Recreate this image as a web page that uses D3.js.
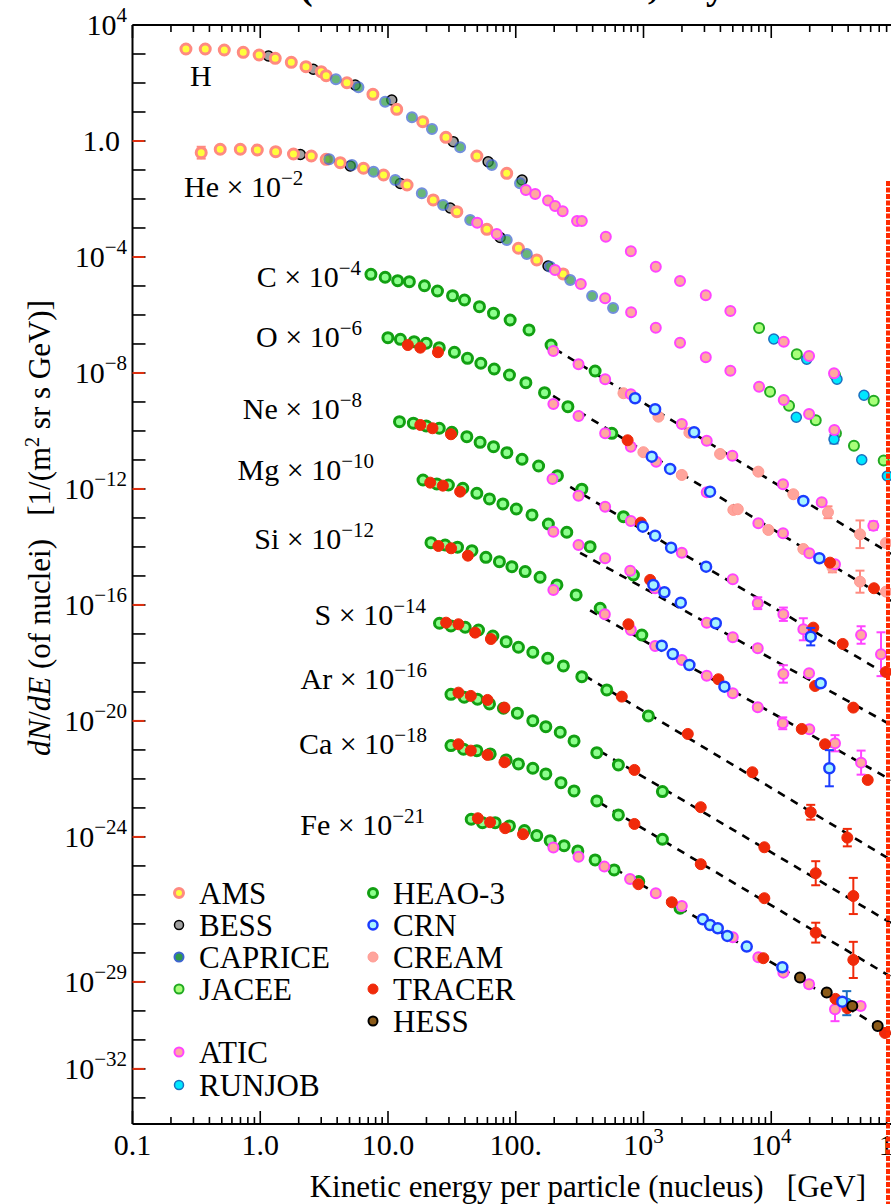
<!DOCTYPE html>
<html><head><meta charset="utf-8">
<script src="https://cdn.jsdelivr.net/npm/d3@7"></script>
<style>
body{margin:0;background:#fff}
svg{display:block}
text{font-family:"Liberation Serif","Times New Roman",serif;fill:#000}
</style>
</head><body>
<svg id="chart" width="891" height="1204"></svg>
<script>
// ---------------- DATA (energy per nucleus [GeV], plotted flux, optional error factor) ----------------
const AMS = [
 ["H",0.262,1486],["H",0.371,1486],["H",0.523,1374],["H",0.736,1145],["H",0.98,924],["H",1.31,711],["H",1.75,518],["H",2.28,365],["H",3.0,245],
 ["H",3.28,179],["H",4.77,102],["H",7.62,40.7],["H",11.7,12.4],["H",18.7,4.63],["H",28.4,1.34],["H",49.6,0.304],["H",85,0.0769],
 ["He",0.345,0.395,1.6],["He",0.486,0.518],["He",0.698,0.518],["He",0.948,0.49],["He",1.32,0.428],["He",1.82,0.356],["He",2.51,0.304],["He",3.28,0.234],
 ["He",4.23,0.179],["He",6.43,0.115],["He",9.23,0.0673],["He",14.1,0.0304],["He",22.6,0.00925],["He",34.6,0.00365],["He",59.4,9.0e-4],["He",105,2.0e-4],["He",146,7.9e-5],["He",235,2.6e-5]
];
const BESS = [
 ["H",1.16,853],["H",2.6,297],["H",5.53,85.3],["H",10.7,25.9],["H",32.4,0.946],["H",60.8,0.193],["H",112,0.0452],
 ["He",2.06,0.342],["He",5.06,0.137],["He",12.5,0.0342],["He",30.7,0.0049],["He",75.5,4.7e-4],["He",179,4.9e-5]
];
const CAPRICE = [
 ["H",3.91,134],["H",5.87,71],["H",9.5,22.6],["H",15.4,6.56],["H",22.1,2.59],["H",36.7,0.607],["H",65,0.149],["H",108,0.0348],
 ["He",3.47,0.234],["He",5.22,0.149],["He",7.71,0.0874],["He",11.4,0.0452],["He",18.4,0.0157],["He",27,0.0062],["He",44,0.00189],["He",85,3.86e-4],
 ["He",122,1.27e-4],["He",186,4.6e-5],["He",267,1.6e-5],["He",396,4.5e-6],["He",578,1.74e-6]
];
const JACEE = [
 ["H",8030,3.56e-7],["H",15850,4.4e-8],["H",31550,8.5e-9],["H",63400,1.1e-9],
 ["He",9790,2.27e-9],["He",13780,7.45e-10],["He",22300,2.34e-10],["He",32100,8.3e-11],["He",44400,3.1e-11],["He",75900,9.5e-12]
];
const RUNJOB = [
 ["H",10470,1.49e-7],["H",18960,2.96e-8],["H",32700,6.07e-9],["H",53200,1.7e-9],
 ["He",15710,2.96e-10],["He",31000,5.2e-11,1.4],["He",51100,1.02e-11],["He",81100,2.8e-12],
 ["Fe",39000,1.85e-30,2.6]
];
const ATIC = [
 ["H",120,0.0204],["H",142,0.0149],["H",179,0.00887],["H",203,0.00574],["H",233,0.00377],["H",302,0.00174],["H",329,0.00174],["H",507,5.0e-4],["H",796,1.57e-4],
 ["H",1248,4.6e-5],["H",1932,1.49e-5],["H",3073,4.8e-6],["H",4786,1.37e-6],["H",12530,1.2e-7],["H",19770,3.86e-8],["H",31000,9.8e-9],
 ["He",49.9,1.52e-3],["He",71,6.2e-4],["He",203,3.56e-5],["He",323,1.17e-5],["He",501,3.77e-6],["He",800,1.24e-6],["He",1248,3.65e-7],["He",1932,1.11e-7],
 ["He",3073,3.48e-8],["He",4786,1.2e-8],["He",8030,3.37e-9],["He",12530,1.17e-9],["He",19770,3.86e-10],["He",31190,1.08e-10],
 ["C",197,5.74e-8],["C",310,2.0e-8],["C",501,6.07e-9],["C",796,1.85e-9],["C",1995,1.74e-10],["C",3126,4.63e-11],["C",4960,1.41e-11],["C",12370,1.45e-12],["C",24830,3.48e-13],["C",63000,5.42e-14,1.4],
 ["O",197,8.5e-10],["O",310,3.29e-10],["O",501,8.3e-11],["O",796,2.88e-11],["O",1256,8.7e-12],["O",3126,7.7e-13],["O",7925,6.57e-14],["O",12370,2.96e-14],["O",19860,6.07e-15],["O",31550,2.53e-15],
 ["Ne",194,2.21e-12],["Ne",310,5.87e-13],["Ne",501,2.45e-13],["Ne",796,7.9e-14],["Ne",1995,6.35e-15],["Ne",5000,7.7e-16],["Ne",7840,1.15e-16,1.6],["Ne",12440,4.78e-17,1.7],["Ne",17830,1.45e-17,2.4],["Ne",50500,9.2e-18,2.0],["Ne",72300,2.0e-18,5.7],
 ["Mg",197,3.37e-14],["Mg",310,1.17e-14],["Mg",501,4.07e-15],["Mg",787,1.52e-15],["Mg",1233,3.77e-16],["Mg",3126,2.45e-17],["Mg",5000,7.7e-18],["Mg",7840,3.21e-18],["Mg",12440,4.18e-19,2.0],["Mg",19770,4.4e-19],
 ["Si",197,3.29e-16],["Si",498,4.78e-17],["Si",796,1.37e-17],["Si",1233,3.86e-18],["Si",1995,1.27e-18],["Si",3126,3.65e-19],["Si",5000,9.0e-20],["Si",7840,2.96e-20],["Si",12300,8.3e-21,1.6],["Si",19860,5.17e-21],["Si",31550,1.7e-21,1.9],["Si",50500,3.65e-22,2.6],
 ["Fe",197,4.28e-25],["Fe",310,2.09e-25],["Fe",494,9.46e-26],["Fe",785,3.56e-26],["Fe",1248,1.15e-26],["Fe",1995,4.18e-27],["Fe",5000,3.48e-28],["Fe",7925,7.1e-29],["Fe",12440,2.09e-29],["Fe",19770,8.3e-30,1.3],["Fe",31550,1.15e-30,2.6],["Fe",50100,1.49e-30,1.3]
];
const HEAO3 = [
 ["C",7.35,2.53e-5],["C",9.5,2.0e-5],["C",11.9,1.52e-5],["C",14.7,1.41e-5],["C",19.3,1.02e-5],["C",24.4,6.7e-6],["C",32,4.63e-6],["C",39.7,3.29e-6],["C",52,1.93e-6],["C",67,1.15e-6],["C",90.4,6.7e-7],["C",127,3.04e-7],["C",189,9.2e-8],["C",418,1.17e-8],
 ["O",9.98,1.65e-7],["O",12.5,1.45e-7],["O",16,1.2e-7],["O",19.9,1.06e-7],["O",25.2,7.45e-8],["O",33.1,5.18e-8],["O",41.9,3.21e-8],["O",53.3,2.16e-8],["O",67.8,1.37e-8],["O",89.3,8.5e-9],["O",120,4.63e-9],["O",168,2.09e-9],["O",256,6.9e-10],["O",565,8.3e-11],
 ["Ne",12.3,2.09e-10],["Ne",15.8,1.85e-10],["Ne",19.9,1.49e-10],["Ne",25.2,1.24e-10],["Ne",31.6,9.0e-11],["Ne",41.4,6.35e-11],["Ne",52.6,4.07e-11],["Ne",67,2.88e-11],["Ne",85.2,1.79e-11],["Ne",112,1.06e-11],["Ne",151,6.2e-12],["Ne",212,2.88e-12],["Ne",329,9.8e-13],["Ne",697,1.11e-13],
 ["Mg",18.8,2.04e-12],["Mg",24.1,1.49e-12],["Mg",29.7,1.37e-12],["Mg",38.5,1.06e-12],["Mg",49.6,7.1e-13],["Mg",62.3,4.52e-13],["Mg",79.3,3.04e-13],["Mg",101,2.04e-13],["Mg",134,1.27e-13],["Mg",180,6.2e-14],["Mg",251,3.21e-14],["Mg",382,1.02e-14],["Mg",834,1.08e-15],
 ["Si",21.7,1.41e-14],["Si",28,1.17e-14],["Si",35,9.8e-15],["Si",45.4,7.45e-15],["Si",58.4,4.4e-15],["Si",74.5,3.11e-15],["Si",93.3,2.09e-15],["Si",118.5,1.41e-15],["Si",155,9.0e-16],["Si",210,4.9e-16],["Si",297,2.21e-16],["Si",458,7.7e-17],["Si",970,9.2e-18],
 ["S",25.3,2.34e-17],["S",31.1,1.89e-17],["S",40.2,1.7e-17],["S",51.1,1.37e-17],["S",66.2,8.5e-18],["S",84.1,5.42e-18],["S",105,3.48e-18],["S",136,2.34e-18],["S",178,1.45e-18],["S",236,7.9e-19],["S",329,3.37e-19],["S",516,1.17e-19],["S",1092,1.49e-20],
 ["Ar",31.1,8.3e-20],["Ar",39.5,6.57e-20],["Ar",50.2,5.6e-20],["Ar",62.3,3.86e-20],["Ar",80.1,2.74e-20],["Ar",103,1.85e-20],["Ar",136,1.02e-20],["Ar",172,6.35e-21],["Ar",223,4.07e-21],["Ar",286,2.04e-21],["Ar",431,8.07e-22],["Ar",636,3.04e-22],["Ar",1406,3.65e-23],
 ["Ca",31.1,1.41e-21],["Ca",39,1.06e-21],["Ca",49.6,9.46e-22],["Ca",63.1,7.3e-22],["Ca",84.1,4.52e-22],["Ca",105,3.29e-22],["Ca",136,2.34e-22],["Ca",172,1.49e-22],["Ca",226,7.45e-23],["Ca",286,3.86e-23],["Ca",431,1.74e-23],["Ca",636,5.74e-24],["Ca",1406,8.3e-25],
 ["Fe",44.8,4.07e-24],["Fe",54.9,3.11e-24],["Fe",69,3.11e-24],["Fe",89.3,2.4e-24],["Fe",117,1.65e-24],["Fe",146,1.11e-24],["Fe",186,7.45e-25],["Fe",239,5.0e-25],["Fe",306,3.29e-25],["Fe",418,1.61e-25],["Fe",589,7.3e-26],["Fe",918,2.88e-26],["Fe",1932,3.48e-27]
];
const CRN = [
 ["C",859,1.34e-9],["C",1233,5.6e-10],["C",2489,9.0e-11],["C",17830,3.86e-13],
 ["O",1161,1.3e-11],["O",1616,4.9e-12],["O",3318,8.07e-13],["O",23790,4.07e-15],
 ["Ne",988,5.0e-14],["Ne",1233,2.45e-14],["Ne",1644,9.46e-15],["Ne",3090,2.09e-15],["Ne",20370,8.07e-18,2.0],
 ["Mg",1195,4.9e-16],["Mg",1457,2.74e-16],["Mg",1958,1.2e-16],["Mg",3680,2.34e-17],["Mg",24380,2.0e-19],
 ["Si",1390,3.95e-18],["Si",1695,2.04e-18],["Si",2286,8.5e-19],["Si",4300,1.52e-19],["Si",28500,2.34e-22,4.2],
 ["Fe",2911,1.45e-27],["Fe",3318,9.2e-28],["Fe",3812,7.1e-28],["Fe",4530,3.86e-28],["Fe",6430,1.65e-28],["Fe",12210,3.21e-29],["Fe",35990,2.09e-30]
];
const CREAM = [
 ["C",697,2.0e-9],["C",1309,3.11e-10],["C",2286,8.7e-11],["C",3975,1.61e-11],["C",7925,3.95e-12],["C",14890,6.57e-13],["C",27800,1.57e-13,1.6],["C",49500,2.74e-14,3.0],["C",79100,1.37e-14],
 ["O",998,1.85e-11],["O",1995,3.04e-12],["O",5050,1.89e-13],["O",5470,2.0e-13],["O",9490,3.86e-14],["O",17830,8.5e-15],["O",30100,2.0e-15,1.5],["O",49500,6.35e-16,2.4],["O",79100,2.88e-16]
];
const TRACER = [
 ["O",14.3,9.2e-8],["O",17.9,7.45e-8],["O",24.6,5.18e-8],["O",751,4.78e-11],["O",28840,2.88e-15],["O",63700,3.77e-16],
 ["Ne",17.9,1.61e-10],["Ne",22.3,1.24e-10],["Ne",31.1,7.7e-11],["Ne",953,6.9e-14],["Ne",21340,1.65e-17],["Ne",36260,4.52e-18],["Ne",79100,4.9e-19],
 ["Mg",21.4,1.65e-12],["Mg",26.9,1.3e-12],["Mg",36.7,8.07e-13],["Mg",1127,7.3e-16],["Mg",22030,1.61e-19],["Mg",43900,2.88e-20],
 ["Si",24.8,1.08e-14],["Si",31.2,9.0e-15],["Si",42.2,5.0e-15],["Si",762,2.16e-17],["Si",3855,2.74e-19],["Si",17330,5.3e-21],["Si",26360,1.57e-21],["Si",56900,9.2e-23],
 ["S",28.5,2.45e-17],["S",35.6,2.16e-17],["S",48.1,1.11e-17],["S",63.9,6.7e-18],["S",676,6.9e-20],["S",2222,3.56e-21],["S",7115,1.7e-22],["S",20370,7.1e-24,1.8],["S",39400,9.46e-25,2.0],
 ["Ar",35.6,9.46e-20],["Ar",44.5,7.3e-20],["Ar",60.1,5.3e-20],["Ar",81.6,2.88e-20],["Ar",849,2.04e-22],["Ar",2806,1.06e-23],["Ar",8830,4.4e-25],["Ar",22290,5.6e-26,2.6],["Ar",43900,9.2e-27,4.2],
 ["Ca",35.6,1.57e-21],["Ca",44.5,9.46e-22],["Ca",60.1,6.73e-22],["Ca",81.6,3.77e-22],["Ca",849,2.8e-24],["Ca",2806,1.15e-25],["Ca",8830,7.7e-27],["Ca",22290,5.0e-28,2.2],["Ca",43900,5.74e-29,4.2],
 ["Fe",50.5,4.4e-24],["Fe",63,3.21e-24],["Fe",82.6,2.0e-24],["Fe",114,1.24e-24],["Fe",912,2.34e-26],["Fe",1665,5.6e-27],["Fe",8670,6.57e-29],["Fe",31840,2.6e-30],["Fe",39400,1.24e-30],["Fe",77700,1.74e-31]
];
const HESS = [
 ["Fe",16790,1.41e-29],["Fe",27190,4.28e-30],["Fe",43100,1.49e-30],["Fe",68100,3.04e-31]
];
// power-law fits (dashed lines): [element, E1, F1, E2, F2]
const FITS = [
 ["C",203,6.7e-8,86500,5.74e-15],["O",196,1.61e-9,86500,1.37e-16],["Ne",267,1.17e-12,86500,3.29e-19],
 ["Mg",319,6.3e-15,86500,7.3e-21],["Si",382,6.5e-17,86500,9.2e-23],["S",349,3.56e-19,86500,1.61e-25],
 ["Ar",458,8.9e-22,86500,1.08e-27],["Ca",458,1.49e-23,86500,1.49e-29],["Fe",600,7.9e-26,86500,1.61e-31]
];
const ELEMENTS = ["H","He","C","O","Ne","Mg","Si","S","Ar","Ca","Fe"];
const SCALE_EXP = ["","−2","−4","−6","−8","−10","−12","−14","−16","−18","−21"];
const Y_TICK_VALUES = [1e4,1,1e-4,1e-8,1e-12,1e-16,1e-20,1e-24,1e-29,1e-32];
const Y_TICK_BASE = ["10","1.0","10","10","10","10","10","10","10","10"];
const Y_TICK_EXP = ["4","","−4","−8","−12","−16","−20","−24","−29","−32"];
const X_TICK_VALUES = [0.1,1,10,100,1e3,1e4,1e5];
const X_TICK_BASE = ["0.1","1.0","10.0","100.","10","10","10"];
const X_TICK_EXP = ["","","","","3","4","5"];
const LEGEND_COL1 = ["AMS","BESS","CAPRICE","JACEE","ATIC","RUNJOB"];
const LEGEND_COL2 = ["HEAO-3","CRN","CREAM","TRACER","HESS"];

// ---------------- STYLES / LAYOUT ----------------
const STY = {
 "AMS":{fill:"#ffff3c",stroke:"#ff8a80",sw:3,r:5},
 "BESS":{fill:"#a0a0a0",stroke:"#000",sw:1.5,r:5},
 "CAPRICE":{fill:"#2f9a48",stroke:"#3d64d0",sw:2,r:5,op:0.72},
 "JACEE":{fill:"#a8ff7a",stroke:"#22aa22",sw:2,r:5},
 "ATIC":{fill:"#ffa8a0",stroke:"#ff44ff",sw:2,r:5},
 "RUNJOB":{fill:"#00e8ff",stroke:"#1a70c0",sw:1.5,r:5},
 "HEAO-3":{fill:"#8dff8d",stroke:"#12a012",sw:3,r:5},
 "CRN":{fill:"#a8f4ff",stroke:"#1a3cff",sw:2.5,r:5},
 "CREAM":{fill:"#ffa49c",stroke:"#ff9a92",sw:1,r:5.5},
 "TRACER":{fill:"#f02a0a",stroke:"#f02a0a",sw:1,r:5.5},
 "HESS":{fill:"#8b5a18",stroke:"#000",sw:2,r:5}
};
const DRAW_ORDER = [["HEAO-3",HEAO3],["BESS",BESS],["AMS",AMS],["CAPRICE",CAPRICE],["JACEE",JACEE],["RUNJOB",RUNJOB],
  ["CREAM",CREAM],["ATIC",ATIC],["TRACER",TRACER],["CRN",CRN],["HESS",HESS]];
const LABEL_POS = [[190,86,"start"],[184,197,"start"],[361,287,"end"],[362,347,"end"],[362,419,"end"],[374,480,"end"],[374,549,"end"],
  [426,625,"end"],[427,689,"end"],[427,754,"end"],[425,835,"end"]];

const svg = d3.select("#chart");
const X0=132.5, X1=899, YT=25, YB=1124;
const x = d3.scaleLog().domain([0.1,1e5]).range([X0,X1]);
const y = d3.scaleLog().domain([1e4,Math.pow(10,-33.9)]).range([YT,YB]);

function rich(g,px,py,base,sup,anchor,size,supSize,raise){
  const t=g.append("text").attr("x",px).attr("y",py).attr("text-anchor",anchor).style("font-size",size+"px");
  t.append("tspan").text(base);
  if(sup) t.append("tspan").attr("dy",-raise).style("font-size",supSize+"px").text(sup);
  return t;
}

// title remnants (cut off at top, as in the reference)
const tt=svg.append("g").style("font-size","38px").style("font-weight","bold");
tt.append("text").attr("x",300).attr("y",-1).text("(");
tt.append("text").attr("x",648).attr("y",-1).text(",");
tt.append("text").attr("x",706).attr("y",-1).text("y");

// dashed fits
const gf=svg.append("g");
FITS.forEach(f=>{
  gf.append("line").attr("x1",x(f[1])).attr("y1",y(f[2])).attr("x2",x(f[3])).attr("y2",y(f[4]))
   .attr("stroke","#000").attr("stroke-width",2.6).attr("stroke-dasharray","8,7");
});

// points
const gp=svg.append("g");
DRAW_ORDER.forEach(([name,data])=>{
  const s=STY[name];
  const g=gp.append("g").attr("opacity",s.op||1);
  data.forEach(d=>{
    const cx=x(d[1]), cy=y(d[2]);
    if(d[3]){
      const ec = name==="CREAM" ? "#ff8a80" : s.stroke==="#000" ? s.fill : s.stroke;
      const y1=y(d[2]*d[3]), y2=y(d[2]/d[3]);
      g.append("line").attr("x1",cx).attr("x2",cx).attr("y1",y1).attr("y2",y2).attr("stroke",ec).attr("stroke-width",2);
      [y1,y2].forEach(yy=>g.append("line").attr("x1",cx-4.5).attr("x2",cx+4.5).attr("y1",yy).attr("y2",yy).attr("stroke",ec).attr("stroke-width",2));
    }
    g.append("circle").attr("cx",cx).attr("cy",cy).attr("r",s.r).attr("fill",s.fill).attr("stroke",s.stroke).attr("stroke-width",s.sw);
  });
});

// element labels
const gl=svg.append("g");
ELEMENTS.forEach((el,i)=>{
  const p=LABEL_POS[i];
  const base = SCALE_EXP[i] ? el+" × 10" : el;
  rich(gl,p[0],p[1],base,SCALE_EXP[i],p[2],30,21,12);
});

// axes frame
const ga=svg.append("g");
ga.append("line").attr("x1",X0).attr("x2",891).attr("y1",YT).attr("y2",YT).attr("stroke","#000").attr("stroke-width",2);
ga.append("line").attr("x1",X0).attr("x2",891).attr("y1",YB).attr("y2",YB).attr("stroke","#000").attr("stroke-width",2);
ga.append("line").attr("x1",X0).attr("x2",X0).attr("y1",YT).attr("y2",YB).attr("stroke","#000").attr("stroke-width",2);

// x ticks (bottom & top)
x.ticks().forEach(t=>{
  const major=Math.abs(Math.log10(t)-Math.round(Math.log10(t)))<1e-9;
  const L=major?13:7, px=x(t);
  if(px>891) return;
  ga.append("line").attr("x1",px).attr("x2",px).attr("y1",YB).attr("y2",YB-L).attr("stroke","#000").attr("stroke-width",1.6);
  ga.append("line").attr("x1",px).attr("x2",px).attr("y1",YT).attr("y2",YT+L).attr("stroke","#000").attr("stroke-width",1.6);
});
// y ticks: every decade
d3.range(4,-34,-1).forEach(e=>{
  const py=y(Math.pow(10,e));
  ga.append("line").attr("x1",X0).attr("x2",X0+13).attr("y1",py).attr("y2",py).attr("stroke","#000").attr("stroke-width",1.6);
});
Y_TICK_VALUES.forEach(v=>{
  if(v===1e4) return;
  const py=y(v);
  ga.append("line").attr("x1",X0).attr("x2",X0+12).attr("y1",py).attr("y2",py).attr("stroke","#e03010").attr("stroke-width",2);
});
// y tick labels
Y_TICK_VALUES.forEach((v,i)=>{
  const py=y(v)+10;
  if(Y_TICK_EXP[i]){
    const t=ga.append("text").attr("x",127).attr("y",py).attr("text-anchor","end").style("font-size","30px");
    t.append("tspan").text(Y_TICK_BASE[i]);
    t.append("tspan").attr("dy",-13).style("font-size","21px").text(Y_TICK_EXP[i]);
  } else {
    ga.append("text").attr("x",120).attr("y",py).attr("text-anchor","end").style("font-size","30px").text(Y_TICK_BASE[i]);
  }
});
// x tick labels
X_TICK_VALUES.forEach((v,i)=>{
  const t=ga.append("text").attr("x",x(v)).attr("y",1155).attr("text-anchor","middle").style("font-size","30px");
  t.append("tspan").text(X_TICK_BASE[i]);
  if(X_TICK_EXP[i]) t.append("tspan").attr("dy",-12).style("font-size","21px").text(X_TICK_EXP[i]);
});

// axis titles
svg.append("text").attr("x",866).attr("y",1197).attr("text-anchor","end").style("font-size","31px").style("white-space","pre")
  .text("Kinetic energy per particle (nucleus)   [GeV]");
const yt=svg.append("text").attr("transform","translate(50,528) rotate(-90)").attr("text-anchor","middle").style("font-size","31px").style("white-space","pre");
yt.append("tspan").style("font-style","italic").text("dN");
yt.append("tspan").text("/");
yt.append("tspan").style("font-style","italic").text("dE");
yt.append("tspan").text(" (of nuclei)   [1/(m");
yt.append("tspan").attr("dy",-11).style("font-size","20px").text("2");
yt.append("tspan").attr("dy",11).text(" sr s GeV)]");

// red dashed vertical line at right edge
svg.append("line").attr("x1",888).attr("x2",888).attr("y1",181).attr("y2",1204)
  .attr("stroke","#ff2a00").attr("stroke-width",4).attr("stroke-dasharray","5,1.5");

// legend
const gLeg=svg.append("g");
const col1Y=[893,925,957,989,1052,1085], col2Y=[893,925,957,989,1021];
function legItem(name,mx,my){
  const s=STY[name];
  gLeg.append("circle").attr("cx",mx).attr("cy",my).attr("r",s.r-0.5).attr("fill",s.fill).attr("stroke",s.stroke).attr("stroke-width",s.sw);
  gLeg.append("text").attr("x",mx+20).attr("y",my+11).style("font-size","31px").text(name);
}
LEGEND_COL1.forEach((n,i)=>legItem(n,179,col1Y[i]));
LEGEND_COL2.forEach((n,i)=>legItem(n,373,col2Y[i]));
</script>
</body></html>
